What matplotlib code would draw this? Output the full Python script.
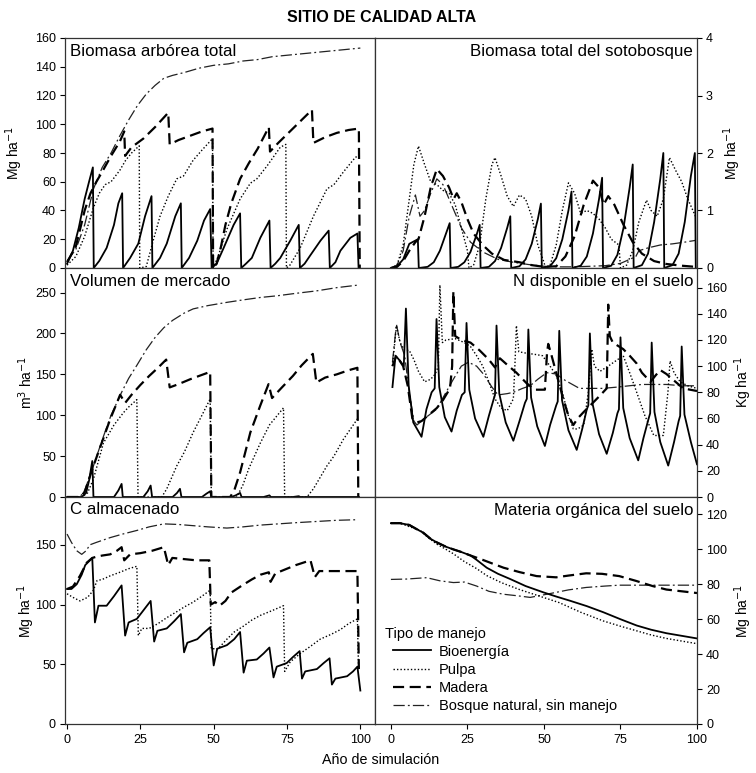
import matplotlib.pyplot as plt

plt.rcParams['font.family'] = ['Liberation Sans', 'DejaVu Sans']

# ---------------- datos (año, valor) ----------------
# Biomasa arbórea total (Mg/ha)
arb_bio = [(0, 3), (2, 12), (4, 28), (6, 48), (7.5, 60), (8.8, 70), (9.1, 0), (11, 5), (13.5, 14), (16, 30),
           (17.5, 45), (18.8, 52), (19.1, 0), (21.5, 7), (24.3, 17), (26.6, 36), (28.8, 50), (29.1, 0), (31.7, 7),
           (34, 17), (36.9, 36), (38.8, 45), (39.1, 0), (41.6, 7), (44.4, 19), (46.7, 33), (48.8, 41), (49.3, 0),
           (51, 3), (53.4, 14), (56.8, 30), (59, 38), (59.4, 0), (61, 3), (63, 7), (65.9, 21), (69, 33), (69.4, 0),
           (71, 3), (72.7, 7), (76.1, 19), (79, 30), (79.4, 0), (81, 3), (83, 9), (86.4, 19), (89.2, 26), (89.6, 0),
           (91.5, 4), (93.2, 12), (96.6, 21), (99, 24), (99.4, 0)]
arb_pulpa = [(0, 2), (3, 8), (6, 22), (9, 42), (11, 52), (13, 58), (15, 60), (18, 68), (20, 75), (22, 80), (24.6, 85),
             (24.8, 0), (27, 1), (29.5, 20), (31.7, 36), (34.5, 50), (37.4, 62), (39.7, 64), (43, 75), (46, 82),
             (49.6, 90), (49.8, 0), (51.5, 8), (54.5, 27), (59, 48), (62.5, 59), (64.7, 62), (68.2, 71), (72.7, 84),
             (74.6, 86), (74.8, 0), (76, 2), (79.5, 14), (84, 36), (88.6, 55), (91, 58), (94.3, 67), (98.3, 77),
             (99.5, 78)]
arb_madera = [(0, 4), (3, 15), (6, 40), (8, 52), (10, 60), (12, 67), (15, 78), (18, 88), (19.5, 95), (19.8, 78),
              (22, 84), (26, 90), (30, 98), (34.5, 108), (35, 86), (38, 89), (42, 92), (46, 95), (49.6, 97), (49.8, 0),
              (51, 3), (52.5, 15), (54, 30), (56, 45), (59, 62), (62, 73), (65, 83), (68.8, 98), (69.2, 81), (72, 87),
              (76, 95), (80, 103), (83.5, 110), (84, 87), (88, 91), (92, 94), (96, 96), (99.5, 97), (99.8, 0)]
arb_natural = [(0, 5), (3, 13), (6, 30), (9, 55), (12, 70), (15, 80), (18, 92), (21, 103), (24, 113), (27, 121),
               (30, 127), (33, 132), (36, 134), (40, 136), (45, 139), (50, 141), (55, 142), (60, 144), (65, 145),
               (70, 147), (75, 148), (80, 149), (85, 150), (90, 151), (95, 152), (100, 153)]

# Biomasa total del sotobosque (Mg/ha)
soto_bio = [(0, 0), (2, 0.03), (4, 0.15), (6, 0.42), (8.8, 0.5), (9.1, 0), (12, 0.02), (14, 0.1), (16, 0.3),
            (18, 0.6), (19.2, 0.78), (19.5, 0), (22, 0.02), (24, 0.1), (26, 0.28), (28, 0.58), (29, 0.75), (29.3, 0),
            (32, 0.02), (34, 0.12), (36, 0.35), (38, 0.7), (39, 0.9), (39.3, 0), (42, 0.03), (44, 0.15), (46, 0.42),
            (48, 0.85), (49, 1.12), (49.3, 0), (52, 0.03), (54, 0.17), (56, 0.5), (58, 1.0), (59, 1.33), (59.3, 0),
            (62, 0.04), (64, 0.2), (66, 0.6), (68, 1.2), (69, 1.57), (69.3, 0), (72, 0.04), (74, 0.23), (76, 0.7),
            (78, 1.4), (79, 1.8), (79.3, 0), (82, 0.05), (84, 0.25), (86, 0.8), (88, 1.55), (89, 2.0), (89.3, 0),
            (92, 0.05), (94, 0.25), (96, 0.8), (98, 1.6), (99.3, 2.0), (99.6, 0)]
soto_pulpa = [(0, 0), (2, 0.05), (4, 0.4), (6, 1.2), (7.5, 1.8), (9, 2.12), (11, 1.8), (13, 1.5), (15, 1.45),
              (17, 1.35), (19, 1.3), (21, 1.1), (23, 0.7), (25, 0.3), (25.5, 0), (27, 0.05), (29, 0.4), (31, 1.2),
              (33, 1.8), (34, 1.92), (36, 1.6), (38, 1.25), (40, 1.07), (42, 1.27), (44, 1.2), (46, 0.9), (48, 0.4),
              (50, 0.1), (50.5, 0), (52, 0.05), (54, 0.4), (56, 1.0), (58, 1.48), (60, 1.3), (62, 0.95), (64, 1.0),
              (66, 0.95), (68, 0.85), (70, 0.7), (72, 0.5), (74.5, 0.4), (75, 0), (77, 0.05), (79, 0.3), (81, 0.8),
              (83.5, 1.18), (85, 1.0), (87, 0.9), (89, 1.2), (91, 1.92), (93, 1.7), (95, 1.5), (97, 1.2), (99.5, 0.9)]
soto_madera = [(0, 0), (2, 0.02), (4, 0.12), (6, 0.3), (8, 0.45), (9, 0.5), (11, 0.9), (13, 1.4), (15, 1.72),
               (17, 1.6), (19, 1.4), (20.5, 1.2), (21.5, 1.3), (23, 1.15), (25, 0.85), (27, 0.6), (30, 0.4),
               (33, 0.25), (37, 0.14), (42, 0.1), (46, 0.05), (50, 0.02), (54, 0.03), (57, 0.2), (60, 0.55),
               (63, 1.1), (66, 1.52), (68, 1.4), (69.5, 1.1), (71, 1.25), (73, 1.1), (76, 0.75), (79, 0.45),
               (82, 0.25), (86, 0.12), (90, 0.07), (95, 0.04), (99.5, 0.02)]
soto_natural = [(0, 0), (2, 0.05), (4, 0.3), (6, 0.9), (8, 1.27), (9.5, 0.9), (11, 1.0), (13, 1.3), (15, 1.55),
                (17, 1.45), (19, 1.2), (21, 0.95), (23, 0.7), (26, 0.45), (30, 0.28), (35, 0.15), (40, 0.1),
                (45, 0.06), (50, 0.03), (55, 0.02), (60, 0.02), (65, 0.03), (70, 0.04), (75, 0.08), (78, 0.15),
                (80, 0.2), (81, 0.3), (84, 0.35), (88, 0.4), (92, 0.42), (96, 0.45), (99.5, 0.48)]

# Volumen de mercado (m3/ha)
vol_bio = [(0, 0), (5, 0), (6.5, 5), (7.5, 20), (8.6, 44), (9, 0), (16, 0), (17.5, 8), (18.6, 16), (19, 0), (26, 0),
           (27.5, 7), (28.5, 14), (29, 0), (36, 0), (37.5, 5), (38.5, 10), (39, 0), (46, 0), (47.5, 4), (48.8, 7),
           (49.2, 0), (56, 0), (57.5, 2), (59, 5), (59.5, 0), (67, 0), (69, 2), (69.5, 0), (77, 0), (79, 1),
           (79.5, 0), (99.5, 0)]
vol_pulpa = [(0, 0), (5, 0), (7, 5), (9, 22), (12.4, 66), (16, 88), (19.2, 103), (21, 110), (23.8, 119), (24.2, 0),
             (32.3, 0), (34, 10), (37.4, 38), (40, 55), (43, 79), (46, 100), (48.8, 120), (49.2, 0), (57.9, 0),
             (60, 15), (62, 35), (65.9, 66), (69, 88), (73.8, 109), (74.2, 0), (81.8, 0), (84, 10), (88.6, 38),
             (91, 50), (94.3, 71), (97, 85), (99.3, 97)]
vol_madera = [(0, 0), (4.4, 0), (6, 6), (9, 38), (12, 68), (14.7, 95), (18.1, 125), (19.8, 115), (22, 125),
              (25, 137), (28, 148), (31, 158), (33.8, 168), (35, 134), (38, 138), (42, 144), (45, 148), (48.8, 153),
              (49.2, 0), (55.6, 0), (57, 8), (59, 30), (62.5, 79), (65.9, 112), (68.7, 138), (69.9, 121), (73, 133),
              (77, 148), (80, 161), (83.8, 175), (85, 140), (88, 146), (92, 150), (96, 155), (99, 158), (99.3, 0)]
vol_natural = [(0, 0), (4.4, 0), (6, 8), (9, 38), (12, 70), (15, 100), (18.6, 128), (21, 145), (23.8, 161),
               (27, 180), (30, 195), (33, 207), (36, 216), (40, 225), (43, 230), (48, 234), (54.5, 238), (60, 241),
               (66, 244), (71.6, 246), (78, 249), (85, 252), (92, 256), (99, 259)]

# N disponible en el suelo (kg/ha)
n_bio = [(0.5, 84), (1.5, 108), (3, 104), (4.2, 100), (4.9, 144), (5.8, 85), (7.3, 57), (10, 46), (11.6, 67),
         (13.3, 80), (14.3, 83), (14.9, 136), (15.8, 84), (17.6, 61), (19.8, 50), (21.5, 66), (23.2, 78), (24.1, 80),
         (24.7, 133), (25.6, 82), (27.5, 60), (30.2, 46), (32, 62), (33.6, 75), (34, 78), (34.5, 131), (35.4, 79),
         (37.5, 57), (40, 43), (42, 58), (43.8, 72), (44.4, 75), (44.9, 128), (45.8, 76), (47.8, 54), (50.3, 39),
         (52, 55), (54, 70), (54.5, 73), (55, 127), (55.9, 74), (58, 51), (60.7, 36), (62.5, 52), (64, 67),
         (64.5, 70), (65, 125), (65.9, 71), (68, 48), (70.5, 33), (72.5, 49), (74, 64), (74.5, 67), (75, 122),
         (75.9, 68), (78, 45), (80.8, 28), (82.5, 45), (84.2, 60), (84.7, 64), (85.2, 118), (86.1, 65), (88, 42),
         (90.6, 24), (92.5, 42), (94, 58), (94.5, 62), (95, 115), (95.9, 63), (98, 42), (100, 25)]
n_pulpa = [(0.5, 100), (1.8, 131), (3, 118), (4.5, 112), (6, 112), (7.5, 105), (9, 96), (11, 88), (13, 90),
           (14.5, 94), (15.5, 100), (16, 162), (16.8, 118), (18, 120), (21, 121), (24, 118), (26, 115), (28, 108),
           (30, 100), (32, 88), (34, 75), (36, 68), (38, 66), (40, 75), (40.5, 100), (41, 131), (41.8, 111),
           (44, 110), (47, 109), (49.5, 108), (52, 100), (54, 93), (56, 80), (58, 62), (59.6, 52), (61, 52),
           (63, 55), (64.5, 80), (65.6, 113), (66.5, 100), (68.3, 96), (71.6, 101), (75.9, 108), (78, 95),
           (80.3, 80), (83, 62), (85.9, 47), (89, 47), (90.5, 80), (91.2, 104), (92.5, 95), (94.5, 88), (97, 85),
           (100, 83)]
n_madera = [(0.5, 100), (1.8, 108), (4, 100), (5.5, 85), (7, 60), (8.5, 57), (10, 58), (12, 62), (15, 68), (17, 74),
            (19.3, 83), (20, 100), (20.4, 157), (21, 123), (23, 120), (26, 118), (29, 112), (32, 105), (34, 99),
            (35.6, 106), (38, 101), (41, 95), (44.3, 87), (47, 82), (50.3, 82), (51, 110), (51.4, 117), (52.5, 108),
            (54, 95), (56.3, 75), (58, 62), (59.6, 55), (61, 60), (63, 65), (66, 72), (68.5, 78), (70.5, 83),
            (70.8, 120), (71, 147), (71.5, 123), (72.5, 118), (75.9, 113), (78, 108), (80.3, 102), (82, 95),
            (84.8, 88), (86.5, 93), (88, 97), (90, 94), (92, 90), (95.5, 83), (100, 81)]
n_natural = [(0.5, 103), (1.8, 132), (3, 118), (4.5, 108), (6, 80), (7.5, 58), (8.5, 55), (11, 60), (14.9, 67),
             (18, 80), (20.4, 90), (23, 100), (25.3, 103), (28, 100), (30.2, 94), (33, 84), (35, 78), (38, 79),
             (40, 80), (43, 83), (45.5, 85), (48, 90), (50.9, 95), (54, 94), (57, 89), (61.6, 83), (65, 83),
             (69.2, 83), (74, 84), (77.9, 85), (82, 86), (85.5, 86), (90, 86), (95, 85), (100, 85)]

# C almacenado (Mg/ha)
c_bio = [(0, 113), (1.5, 113), (3.3, 117), (5, 125), (6.2, 133), (8.6, 139), (9.5, 85), (10.7, 99), (13.5, 99),
         (16, 107), (18.6, 116), (19.8, 74), (21, 85), (23.8, 88), (26, 95), (28.5, 103), (29.7, 69), (30.8, 78),
         (34, 80), (36.5, 86), (38.8, 92), (39.9, 60), (41, 68), (44.4, 71), (46.5, 76), (48.8, 81), (50, 49),
         (51.2, 63), (54.5, 66), (57, 71), (59, 77), (60.2, 43), (61.3, 53), (64.7, 54), (67, 59), (69, 64),
         (70.4, 39), (71.5, 48), (74.9, 51), (77, 56), (79.3, 61), (80.1, 38), (81.2, 44), (85.2, 46), (87.5, 51),
         (89.5, 55), (90.3, 33), (91.5, 38), (95.5, 40), (97.5, 44), (99, 48), (100, 28)]
c_pulpa = [(0, 109), (2, 106), (4.4, 103), (7, 106), (9, 112), (10.2, 120), (12, 121), (14.7, 124), (18, 127),
           (21, 130), (23.8, 132), (24.3, 74), (25.5, 80), (28, 80), (31, 84), (34, 89), (37.4, 94), (40, 98),
           (43, 102), (46, 107), (48.8, 112), (49.2, 63), (51.5, 63), (54.5, 71), (57, 77), (60.2, 82), (63, 87),
           (66, 91), (70, 95), (73.8, 99), (74.2, 44), (76.1, 52), (79.5, 59), (83, 65), (86.3, 71), (90, 75),
           (93.2, 79), (96, 84), (99, 88), (99.4, 46)]
c_madera = [(0, 113), (2, 115), (4.4, 124), (6.7, 135), (8.6, 139), (10, 140), (12, 141), (14.7, 142), (17, 145),
            (18.6, 148), (19.5, 137), (21.5, 142), (25, 143), (29, 145), (33, 148), (34.5, 133), (35.9, 139),
            (40, 138), (44, 137), (48.5, 137), (49, 100), (50.5, 102), (52, 99), (54, 103), (56, 110), (59.7, 116),
            (63, 121), (66, 125), (68.8, 127), (69.4, 119), (71, 126), (74, 129), (78, 133), (83, 137), (84.5, 123),
            (86, 128), (90, 128), (95, 128), (99, 128), (99.5, 46)]
c_natural = [(0, 159), (1.5, 152), (3.3, 145), (5, 142), (6.5, 145), (7.8, 150), (10, 152), (14.7, 156), (19, 159),
             (23.8, 162), (28, 165), (33, 167.5), (38, 167), (43, 166), (48, 165), (54.5, 164), (60, 165),
             (66, 166.5), (72, 167.5), (78, 168.5), (85, 169.5), (92, 170.5), (99, 171)]

# Materia orgánica del suelo (Mg/ha)
mo_bio = [(0, 115), (3, 115), (6, 114), (8, 112), (10.6, 109.5), (13, 106), (15, 104), (18, 101.5), (20.4, 100),
          (23, 98.5), (26, 96.5), (28, 94), (31.3, 89.5), (35, 86), (39, 83), (44, 79), (49.8, 75.4), (54, 73),
          (58.5, 70.6), (64, 67.5), (69.4, 64), (75, 60), (80.3, 56.4), (85, 54), (90, 52), (95, 50.5), (100, 49)]
mo_pulpa = [(0, 115), (3, 115), (6, 113), (9.5, 111), (12, 107), (15, 103), (18, 100), (20.4, 97.5), (24, 93),
            (28, 89), (31.3, 85), (36, 81), (42, 77), (49.8, 72.5), (55, 69.5), (62, 64), (69.4, 59), (75, 56),
            (80, 53.5), (85, 51), (90, 49), (95, 47.5), (100, 46)]
mo_madera = [(0, 115), (3, 115), (6, 114), (8, 112), (10.6, 109.5), (13, 106), (15, 104), (18, 101.5), (20.4, 100),
             (23, 98.5), (26, 96.5), (30, 94), (33, 92), (36.8, 89.5), (42, 87), (47.6, 84.7), (54, 84), (58, 85),
             (63.8, 86.3), (69, 86), (74.6, 84.7), (80, 82), (85.5, 79), (90, 77), (95, 76), (100, 75)]
mo_natural = [(0, 82.8), (5, 83), (11.7, 83.8), (16, 82), (20.4, 81), (24, 81.3), (28, 79), (32, 76), (36.8, 74.3),
              (41, 73.5), (45.5, 72.5), (50, 74), (54, 75.4), (58, 76.8), (63.8, 78.2), (70, 79), (74.6, 79.5),
              (80, 79.5), (90, 79.5), (100, 79.5)]

etiquetas = ['Bioenergía', 'Pulpa', 'Madera', 'Bosque natural, sin manejo']

# ---------------- estilos ----------------
estilos = [
    dict(color='black', lw=1.3, ls='-'),
    dict(color='black', lw=1.0, ls=(0, (1, 1.5))),
    dict(color='black', lw=1.6, ls=(0, (5, 2.5))),
    dict(color='#222222', lw=0.9, ls=(0, (9, 2.5, 1.5, 2.5))),
]

W, H = 756, 773


def caja(x0, y0, x1, y1):
    return [x0 / W, 1 - y1 / H, (x1 - x0) / W, (y1 - y0) / H]


fig = plt.figure(figsize=(7.56, 7.73), dpi=100)

paneles = [
    # (series, caja, titulo, lado, ylim, yticks, etiqueta y, pos etiqueta, fila inferior)
    ([arb_bio, arb_pulpa, arb_madera, arb_natural], caja(65, 38, 375, 268), 'Biomasa arbórea total', 'left',
     (0, 160), range(0, 161, 20), 'Mg ha$^{-1}$', -0.165, False),
    ([soto_bio, soto_pulpa, soto_madera, soto_natural], caja(375, 38, 697, 268), 'Biomasa total del sotobosque',
     'right', (0, 4), range(0, 5), 'Mg ha$^{-1}$', 1.11, False),
    ([vol_bio, vol_pulpa, vol_madera, vol_natural], caja(65, 268, 375, 497), 'Volumen de mercado', 'left',
     (0, 280), range(0, 251, 50), 'm$^{3}$ ha$^{-1}$', -0.126, False),
    ([n_bio, n_pulpa, n_madera, n_natural], caja(375, 268, 697, 497), 'N disponible en el suelo', 'right',
     (0, 175), range(0, 161, 20), 'Kg ha$^{-1}$', 1.145, False),
    ([c_bio, c_pulpa, c_madera, c_natural], caja(65, 497, 375, 724), 'C almacenado', 'left',
     (0, 190), range(0, 151, 50), 'Mg ha$^{-1}$', -0.126, True),
    ([mo_bio, mo_pulpa, mo_madera, mo_natural], caja(375, 497, 697, 724), 'Materia orgánica del suelo', 'right',
     (0, 130), range(0, 121, 20), 'Mg ha$^{-1}$', 1.145, True),
]

ejes = []
for series, rect, titulo, lado, ylim, yticks, ylab, xlab_pos, inferior in paneles:
    ax = fig.add_axes(rect)
    for datos, est, nombre in zip(series[::-1], estilos[::-1], etiquetas[::-1]):
        xs, ys = zip(*datos)
        ax.plot(xs, ys, label=nombre, **est)
    ax.set_ylim(*ylim)
    ax.set_yticks(list(yticks))
    if lado == 'left':
        ax.set_xlim(-0.7, 105)
        ax.text(0.016, 0.943, titulo, transform=ax.transAxes, ha='left', va='center', fontsize=12.2)
    else:
        ax.set_xlim(-5.2, 100)
        ax.yaxis.tick_right()
        ax.text(0.988, 0.94, titulo, transform=ax.transAxes, ha='right', va='center', fontsize=12.2)
    ax.text(xlab_pos, 0.5, ylab, transform=ax.transAxes, rotation=90, ha='center', va='center', fontsize=10)
    ax.set_xticks([0, 25, 50, 75, 100])
    ax.tick_params(axis='y', direction='out', length=3.5, width=0.8, labelsize=9, pad=3,
                   left=(lado == 'left'), right=(lado == 'right'))
    ax.tick_params(axis='x', direction='out', length=3.5, width=0.8, labelsize=9, pad=4,
                   bottom=inferior, labelbottom=inferior, top=False)
    for sp in ax.spines.values():
        sp.set_color('#333333')
        sp.set_linewidth(0.9)
    ejes.append(ax)

# leyenda en el panel de materia orgánica
ax_mo = ejes[5]
ax_mo.text(0.031, 0.397, 'Tipo de manejo', transform=ax_mo.transAxes, ha='left', va='center', fontsize=10.5)
h, l = ax_mo.get_legend_handles_labels()
ax_mo.legend(h[::-1], l[::-1], loc='upper left', bbox_to_anchor=(0.055, 0.35), frameon=False, fontsize=10.5,
             handlelength=2.6, handletextpad=0.55, labelspacing=0.28, borderpad=0, borderaxespad=0)

fig.text(0.505, 1 - 18 / H, 'SITIO DE CALIDAD ALTA', ha='center', va='center', fontsize=11.5, fontweight='bold')
fig.text(0.504, 1 - 760 / H, 'Año de simulación', ha='center', va='center', fontsize=10.3)

fig.savefig('out.png', dpi=100)
